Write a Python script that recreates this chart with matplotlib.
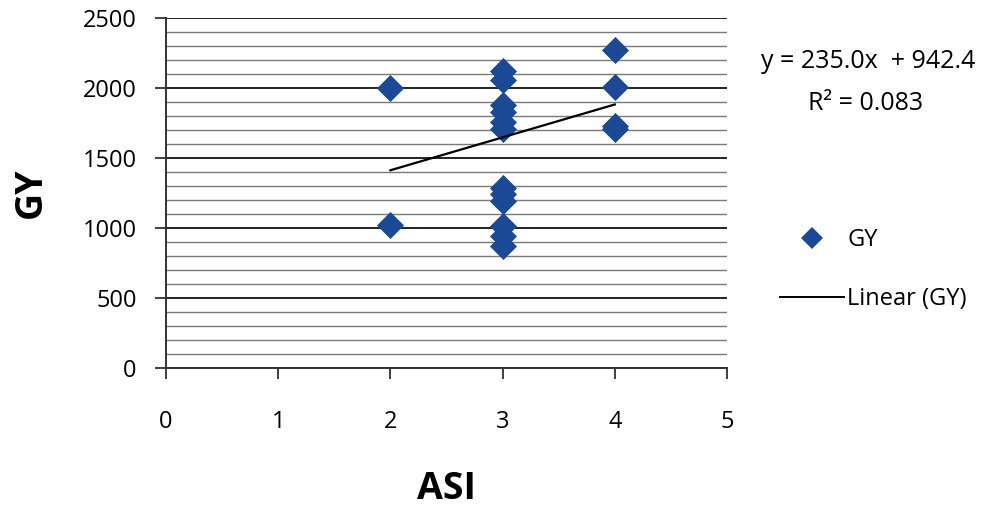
import numpy as np
import matplotlib.pyplot as plt
from matplotlib.ticker import MultipleLocator
from matplotlib.lines import Line2D

# data
asi = [2, 2,
       3, 3, 3, 3, 3, 3, 3, 3, 3, 3, 3, 3,
       4, 4, 4, 4]
gy = [2000, 1025,
      2120, 2060, 1880, 1830, 1760, 1710, 1285, 1240, 1195, 1015, 945, 870,
      2270, 2005, 1725, 1705]

# trendline as printed on the chart
slope = 235.0
intercept = 942.4
r2 = 0.083

x_ticks = [0, 1, 2, 3, 4, 5]
y_ticks = [0, 500, 1000, 1500, 2000, 2500]

marker_color = '#1c4996'
plt.rcParams['font.family'] = ['Open Sans', 'DejaVu Sans']

fig = plt.figure(figsize=(10.05, 5.08), dpi=100)
ax = fig.add_axes([166/1005, 1 - 368/508, (727 - 166)/1005, 350/508])

# horizontal gridlines (minor every 100, major every 500)
ax.yaxis.set_major_locator(MultipleLocator(500))
ax.yaxis.set_minor_locator(MultipleLocator(100))
ax.grid(which='minor', axis='y', color='#7a7a7a', linewidth=1.0)
ax.grid(which='major', axis='y', color='#222222', linewidth=1.4)
ax.set_axisbelow(True)

ax.scatter(asi, gy, marker='D', s=190, color=marker_color, linewidths=0, zorder=3)

xt = np.array([min(asi), max(asi)])
ax.plot(xt, slope * xt + intercept, color='black', linewidth=1.6, zorder=4)

ax.set_xlim(0, 5)
ax.set_ylim(0, 2500)
ax.set_xticks(x_ticks)
ax.set_yticks(y_ticks)

for s in ['top', 'right']:
    ax.spines[s].set_visible(False)
for s in ['left', 'bottom']:
    ax.spines[s].set_color('#333333')
    ax.spines[s].set_linewidth(1.4)

ax.tick_params(axis='x', which='major', direction='out', length=8, width=1.3,
               color='#333333', labelsize=17, pad=22)
ax.tick_params(axis='y', which='major', direction='out', length=8, width=1.3,
               color='#333333', labelsize=17, pad=13)
ax.tick_params(axis='y', which='minor', length=0)

ax.set_xlabel('ASI', fontsize=27, fontweight='bold', labelpad=26)
ax.set_ylabel('GY', fontsize=27, fontweight='bold', labelpad=24)

fig.text(868/1005, 1 - 62/508, f'y = {slope:.1f}x  + {intercept:.1f}',
         fontsize=18, ha='center', va='center')
fig.text(866/1005, 1 - 104/508, f'R² = {r2:.3f}',
         fontsize=18, ha='center', va='center')

handles = [Line2D([], [], marker='D', linestyle='none', color=marker_color,
                  markersize=11, markeredgewidth=0),
           Line2D([], [], color='black', linewidth=1.4)]
fig.legend(handles, ['GY', 'Linear (GY)'], loc='upper left',
           bbox_to_anchor=(780/1005, 1 - 228/508), frameon=False,
           fontsize=17, handlelength=2.7, handletextpad=0.15,
           labelspacing=1.5, borderpad=0, borderaxespad=0)

fig.savefig('out.png', dpi=100)
